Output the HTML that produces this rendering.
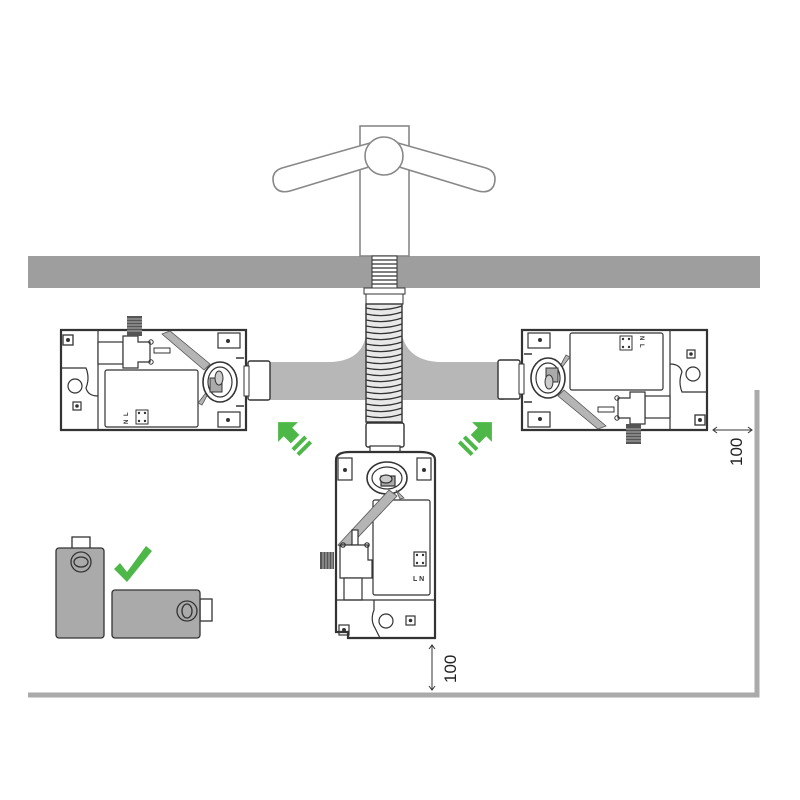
<!DOCTYPE html>
<html><head><meta charset="utf-8"><style>html,body{margin:0;padding:0;background:#fff}svg{display:block}</style></head>
<body>
<svg width="800" height="800" viewBox="0 0 800 800" xmlns="http://www.w3.org/2000/svg" font-family="Liberation Sans, sans-serif">
<defs>
<g id="unit">
  <path d="M3,2 L188,2 L188,102 L3,102 Z" fill="#fff" stroke="#333" stroke-width="2.2"/>
  <rect x="5" y="7" width="10" height="10" fill="none" stroke="#333" stroke-width="1.3"/>
  <circle cx="10" cy="12" r="2" fill="#333"/>
  <line x1="40" y1="2" x2="40" y2="102" stroke="#333" stroke-width="1.2"/>
  <path d="M3,40 L28,40 Q32,50 28,60 Q30,68 40,68" fill="none" stroke="#333" stroke-width="1.2"/>
  <circle cx="17" cy="58" r="7" fill="none" stroke="#333" stroke-width="1.2"/>
  <rect x="15" y="74" width="8" height="8" fill="none" stroke="#333" stroke-width="1.2"/>
  <circle cx="19" cy="78" r="1.8" fill="#333"/>
  <rect x="47" y="42" width="93" height="57" rx="2" fill="none" stroke="#333" stroke-width="1.2"/>
  <rect x="40" y="14" width="25" height="22" fill="#fff" stroke="#333" stroke-width="1.2"/>
  <path d="M65,8 L80,8 L80,14 L92,14 L92,34 L80,34 L80,40 L65,40 Z" fill="#fff" stroke="#333" stroke-width="1.2"/>
  <rect x="69" y="-12" width="15" height="20" fill="#555"/>
  <g stroke="#ccc" stroke-width="0.8"><line x1="69" y1="-9" x2="84" y2="-9"/><line x1="69" y1="-6" x2="84" y2="-6"/><line x1="69" y1="-3" x2="84" y2="-3"/><line x1="69" y1="0" x2="84" y2="0"/><line x1="69" y1="3" x2="84" y2="3"/></g>
  <rect x="96" y="20" width="16" height="5" fill="#fff" stroke="#333" stroke-width="1"/>
  <circle cx="93" cy="14" r="2.2" fill="none" stroke="#333"/><circle cx="93" cy="34" r="2.2" fill="none" stroke="#333"/>
  <path d="M104,6 L112,3 L152,36 L146,42 Z" fill="#b5b5b5" stroke="#555" stroke-width="0.8"/>
  <path d="M140,75 L147,66 L151,64 L144,77 Z" fill="#b5b5b5" stroke="#555" stroke-width="0.8"/>
  <rect x="160" y="5" width="22" height="15" fill="#fff" stroke="#333" stroke-width="1.2"/>
  <circle cx="170" cy="13" r="2" fill="#333"/>
  <rect x="160" y="84" width="22" height="15" fill="#fff" stroke="#333" stroke-width="1.2"/>
  <circle cx="170" cy="92" r="2" fill="#333"/>
  <ellipse cx="162" cy="54" rx="17" ry="20" fill="#fff" stroke="#333" stroke-width="1.6"/>
  <ellipse cx="162" cy="54" rx="12" ry="15" fill="#fff" stroke="#333" stroke-width="1.2"/>
  <rect x="152" y="50" width="12" height="14" fill="#aaa" stroke="#333" stroke-width="1"/>
  <ellipse cx="161" cy="50" rx="4" ry="7" fill="#ccc" stroke="#333"/>
  <path d="M178,30 L186,30 M178,78 L186,78" stroke="#333" stroke-width="1.5"/>
  <rect x="78" y="82" width="12" height="14" fill="none" stroke="#333" stroke-width="1"/>
  <g fill="#333"><circle cx="81" cy="85" r="1.2"/><circle cx="87" cy="85" r="1.2"/><circle cx="81" cy="93" r="1.2"/><circle cx="87" cy="93" r="1.2"/></g>
  <text x="70" y="88" font-size="6" font-weight="bold" fill="#333" transform="rotate(-90 70 88)">L</text>
  <text x="70" y="96" font-size="6" font-weight="bold" fill="#333" transform="rotate(-90 70 96)">N</text>
  <rect x="190" y="33" width="22" height="39" rx="2" fill="#fff" stroke="#333" stroke-width="1.4"/>
  <rect x="186" y="38" width="5" height="30" fill="#fff" stroke="#333" stroke-width="1"/>
</g>
</defs>

<rect x="28" y="256" width="732" height="32" fill="#9e9e9e"/>
<g fill="#fff" stroke="#888" stroke-width="1.6">
<rect x="360" y="126" width="49" height="130"/>
<path d="M370,143 L282,168 Q270,172 274,185 Q278,194 290,191 L372,166 Z"/>
<path d="M398,143 L486,168 Q498,172 494,185 Q490,194 478,191 L396,166 Z"/>
<circle cx="384" cy="156" r="19"/>
</g>
<rect x="372" y="256" width="25" height="32" fill="#fff" stroke="#333"/>
<g stroke="#333" stroke-width="1.2">
<line x1="372" y1="260" x2="397" y2="260"/><line x1="372" y1="264" x2="397" y2="264"/><line x1="372" y1="268" x2="397" y2="268"/><line x1="372" y1="272" x2="397" y2="272"/><line x1="372" y1="276" x2="397" y2="276"/><line x1="372" y1="280" x2="397" y2="280"/><line x1="372" y1="284" x2="397" y2="284"/>
</g>
<path d="M266,362 L332,362 Q362,360 366,335 L366,400 L266,400 Z" fill="#b7b7b7"/>
<path d="M504,362 L438,362 Q408,360 402,335 L402,400 L504,400 Z" fill="#b7b7b7"/>
<rect x="364" y="288" width="41" height="6" fill="#fff" stroke="#333"/>
<rect x="366" y="294" width="37" height="10" fill="#fff" stroke="#333"/>
<rect x="366" y="304" width="36" height="118" fill="#e8e8e8" stroke="#333" stroke-width="1.4"/>
<g stroke="#333" stroke-width="1.3" fill="none">
<path d="M366,308 Q384,312 402,306"/><path d="M366,314 Q384,318 402,312"/><path d="M366,320 Q384,324 402,318"/><path d="M366,326 Q384,330 402,324"/><path d="M366,332 Q384,336 402,330"/><path d="M366,338 Q384,342 402,336"/><path d="M366,344 Q384,348 402,342"/><path d="M366,350 Q384,354 402,348"/><path d="M366,356 Q384,360 402,354"/><path d="M366,362 Q384,366 402,360"/><path d="M366,368 Q384,372 402,366"/><path d="M366,374 Q384,378 402,372"/><path d="M366,380 Q384,384 402,378"/><path d="M366,386 Q384,390 402,384"/><path d="M366,392 Q384,396 402,390"/><path d="M366,398 Q384,402 402,396"/><path d="M366,404 Q384,408 402,402"/><path d="M366,410 Q384,414 402,408"/><path d="M366,416 Q384,420 402,414"/>
</g>
<use href="#unit" transform="translate(58,328)"/>
<use href="#unit" transform="translate(710,432) rotate(180)"/>

<!-- bottom unit -->
<g stroke="#333" stroke-width="1.2" fill="none">
<rect x="366" y="423" width="38" height="24" rx="2" fill="#fff" stroke-width="1.4"/>
<rect x="370" y="446" width="30" height="6" fill="#fff"/>
<path d="M336,460 Q336,452 350,452 L420,452 Q435,452 435,460 L435,638 L348,638 L348,632 L336,632 Z" fill="#fff" stroke-width="2.2"/>
<rect x="338" y="458" width="14" height="22" fill="#fff"/><circle cx="345" cy="470" r="2" fill="#333" stroke="none"/>
<rect x="417" y="458" width="14" height="22" fill="#fff"/><circle cx="424" cy="470" r="2" fill="#333" stroke="none"/>
<ellipse cx="387" cy="478" rx="20" ry="16" fill="#fff" stroke-width="1.6"/>
<ellipse cx="387" cy="478" rx="15" ry="11" fill="#fff"/>
<rect x="381" y="476" width="14" height="10" fill="#aaa"/>
<ellipse cx="386" cy="479" rx="6" ry="4" fill="#ccc"/>
<rect x="373" y="500" width="57" height="95" rx="2"/>
<path d="M389,490 L397,496 L346,550 L338,545 Z" fill="#b5b5b5" stroke="#555" stroke-width="0.8"/>
<path d="M396,490 L404,498 L400,499 Z" fill="#b5b5b5" stroke="#555" stroke-width="0.8"/>
<rect x="414" y="552" width="12" height="14"/>
<rect x="352" y="530" width="6" height="15" fill="#fff"/>
<path d="M340,545 L368,545 L368,560 L372,560 L372,578 L340,578 Z" fill="#fff"/>
<circle cx="343" cy="545" r="2.2"/><circle cx="367" cy="545" r="2.2"/>
<rect x="344" y="578" width="18" height="22" fill="#fff"/>
<line x1="336" y1="600" x2="435" y2="600"/>
<path d="M374,600 L374,610 Q370,620 375,628 L380,638"/>
<circle cx="386" cy="621" r="7"/>
<rect x="406" y="616" width="9" height="9"/><circle cx="410.5" cy="620.5" r="1.8" fill="#333" stroke="none"/>
<rect x="339" y="625" width="10" height="10"/><circle cx="344" cy="630" r="2" fill="#333" stroke="none"/>
</g>
<rect x="320" y="552" width="14" height="17" fill="#555"/>
<g stroke="#ccc" stroke-width="0.8"><line x1="323" y1="552" x2="323" y2="569"/><line x1="326" y1="552" x2="326" y2="569"/><line x1="329" y1="552" x2="329" y2="569"/><line x1="332" y1="552" x2="332" y2="569"/></g>
<g fill="#333"><circle cx="417" cy="555" r="1.2"/><circle cx="423" cy="555" r="1.2"/><circle cx="417" cy="563" r="1.2"/><circle cx="423" cy="563" r="1.2"/></g>
<text x="413" y="581" font-size="7" font-weight="bold" fill="#333">L N</text>

<g fill="#4db848">
<g transform="translate(288,432) rotate(-45)">
<polygon points="0,-14 -14,0 -6,0 -6,10 6,10 6,0 14,0"/>
<rect x="-9" y="14" width="18" height="4"/><rect x="-9" y="21" width="18" height="4"/>
</g>
<g transform="translate(482,432) rotate(45)">
<polygon points="0,-14 -14,0 -6,0 -6,10 6,10 6,0 14,0"/>
<rect x="-9" y="14" width="18" height="4"/><rect x="-9" y="21" width="18" height="4"/>
</g>
<path d="M114,569 L120,563 L127,572 L146,546 L152,551 L127,582 Z"/>
</g>
<g stroke="#333" stroke-width="1.3">
<rect x="72" y="537" width="18" height="13" fill="#fff"/>
<rect x="56" y="548" width="48" height="90" rx="3" fill="#aaa"/>
<circle cx="81" cy="562" r="10" fill="#aaa"/><ellipse cx="81" cy="562" rx="7" ry="5" fill="#aaa"/>
<rect x="200" y="599" width="12" height="22" fill="#fff"/>
<rect x="112" y="590" width="88" height="48" rx="3" fill="#aaa"/>
<circle cx="187" cy="611" r="10" fill="#aaa"/><ellipse cx="187" cy="611" rx="5" ry="7" fill="#aaa"/>
</g>
<path d="M28,695 L757,695 L757,390" fill="none" stroke="#aaa" stroke-width="5"/>
<g stroke="#333" stroke-width="1" fill="none">
<line x1="432" y1="645" x2="432" y2="690"/><path d="M429,649 L432,645 L435,649 M429,686 L432,690 L435,686"/>
<line x1="713" y1="430" x2="752" y2="430"/><path d="M717,427 L713,430 L717,433 M748,427 L752,430 L748,433"/>
</g>
<text x="0" y="0" font-size="17" fill="#222" transform="translate(456,683) rotate(-90)">100</text>
<text x="0" y="0" font-size="17" fill="#222" transform="translate(742,466) rotate(-90)">100</text>
</svg>
</body></html>
